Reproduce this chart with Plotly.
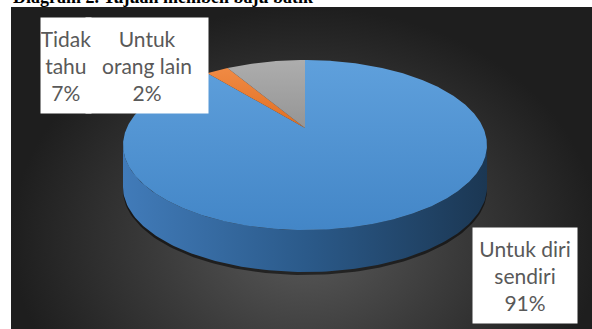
import numpy as np
import plotly.graph_objects as go

# ---- data ----
labels = ["Untuk diri sendiri", "Untuk orang lain", "Tidak tahu"]
values = [91, 2, 7]
label_lines = [["Untuk diri", "sendiri"], ["Untuk", "orang lain"], ["Tidak", "tahu"]]
title_text = "Diagram 2. Tujuan membeli baju batik"

# ---- layout constants (pixel-like axis units) ----
W, H = 592, 329
CX, CY, RX, RY = 305, 145, 182, 85
APEX_DY = -17
DEPTH = 42

top_colors = [("#5fa0dc", "#4386c7"), ("#f08a44", "#e06f22"), ("#adadad", "#959595")]

fig = go.Figure()

# background panel with radial gradient
fig.add_trace(go.Scatter(
    x=[11, 600, 600, 11, 11], y=[7, 7, 470, 470, 7], fill="toself", mode="lines",
    line=dict(width=0),
    fillgradient=dict(type="radial", colorscale=[[0, "#5a5a5a"], [0.5, "#3b3b3b"], [1, "#1e1e1e"]]),
    hoverinfo="skip", showlegend=False))

def rim(t0, t1, n=120, dy=0.0, sx=1.0, sy=1.0):
    th = np.radians(np.linspace(t0, t1, n))
    return CX + RX * sx * np.sin(th), CY + dy - RY * sy * np.cos(th)

# shadow under pie
xs, ys = rim(80, 280, dy=DEPTH + 3)
xt, yt = rim(280, 80, dy=0)
fig.add_trace(go.Scatter(x=np.r_[xs, xt], y=np.r_[ys, yt], fill="toself", mode="lines",
                         line=dict(width=0), fillcolor="rgba(0,0,0,0.55)",
                         hoverinfo="skip", showlegend=False))

# side of pie (front half)
xa, ya = rim(90, 270)
xb, yb = rim(270, 90, dy=DEPTH)
fig.add_trace(go.Scatter(
    x=np.r_[xa, xb, xa[:1]], y=np.r_[ya, yb, ya[:1]], fill="toself", mode="lines",
    line=dict(width=0),
    fillgradient=dict(type="horizontal",
                      colorscale=[[0, "#417bb9"], [0.5, "#2b5a8a"], [1, "#1b3753"]]),
    hoverinfo="skip", showlegend=False))

# top slices
total = sum(values)
cum = 0.0
for i, v in enumerate(values):
    t0 = 360 * cum / total
    cum += v
    t1 = 360 * cum / total
    px, py = rim(t0, t1, n=max(4, int((t1 - t0) * 2)))
    ax, ay = CX, CY + APEX_DY
    c_top, c_bot = top_colors[i]
    fig.add_trace(go.Scatter(
        x=np.r_[ax, px, ax], y=np.r_[ay, py, ay], fill="toself", mode="lines",
        line=dict(width=0),
        fillgradient=dict(type="vertical", colorscale=[[0, c_bot], [1, c_top]]),
        name=labels[i], hoverinfo="skip", showlegend=False))

def box(idx, xc, yc, w, h):
    txt = "<br>".join(label_lines[idx] + [f"{values[idx]}%"])
    fig.add_annotation(x=xc, y=yc, xref="x", yref="y", text=txt, showarrow=False,
                       font=dict(family="Lato", size=21, color="#595959"),
                       bgcolor="white", width=w, height=h, borderpad=0,
                       align="center", valign="middle")

box(1, 147, 65.5, 122, 95)
box(2, 66, 65.5, 50, 95)
box(0, 525, 275.5, 104, 95)

fig.add_annotation(x=11, y=7, xref="x", yref="y", xanchor="left", yanchor="bottom",
                   yshift=-2,
                   text=f"<b>{title_text}</b>", showarrow=False,
                   font=dict(family="Liberation Serif", size=18, color="black"))

fig.update_layout(
    width=W, height=H, margin=dict(l=0, r=0, t=0, b=0),
    paper_bgcolor="white", plot_bgcolor="white",
    xaxis=dict(range=[0, W], visible=False, fixedrange=True),
    yaxis=dict(range=[H, 0], visible=False, fixedrange=True),
)

fig.write_html("out.html")
